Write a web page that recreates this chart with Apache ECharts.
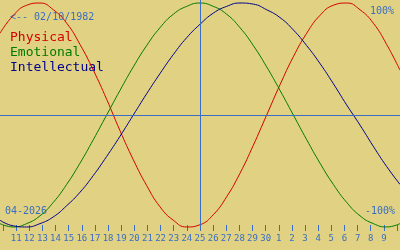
<!DOCTYPE html>
<html>
<head>
<meta charset="utf-8">
<style>
html,body{margin:0;padding:0;background:#e0d282;}
#c{width:400px;height:250px;}
</style>
<script src="https://cdn.jsdelivr.net/npm/echarts@6/dist/echarts.min.js"></script>
</head>
<body>
<div id="c"></div>
<script>
// Day labels from Apr 10 to May 10 (first and last are edges, not labelled)
var days = ['10','11','12','13','14','15','16','17','18','19','20','21','22','23','24','25','26','27','28','29','30','1','2','3','4','5','6','7','8','9','10'];
// Values in percent, one per day
var physical = [73,89,98,100,94,82,63,40,14,-14,-40,-63,-82,-94,-100,-98,-89,-73,-52,-27,0,27,52,73,89,98,100,94,82,63,40];
var emotional = [-97,-100,-97,-90,-78,-62,-43,-22,0,22,43,62,78,90,97,100,97,90,78,62,43,22,0,-22,-43,-62,-78,-90,-97,-100,-97];
var intellectual = [-94,-99,-100,-97,-91,-81,-69,-54,-37,-19,0,19,37,54,69,81,91,97,100,99,94,87,76,62,46,28,9,-9,-28,-46,-62];
var seriesNames = ['Physical','Emotional','Intellectual'];
var todayIndex = 15;
var birthLabel = '<-- 02/10/1982';
var monthLabel = '04-2026';
var topLabel = '100%';
var bottomLabel = '-100%';

var BLUE = '#3a6ec4';
var COLORS = ['#d40000','#007a00','#00008c'];
var FONT = 'DejaVu Sans Mono';

var chart = echarts.init(document.getElementById('c'), null, {renderer:'canvas'});
function mk(name, data, color, extra){
  var s = {name:name, type:'line', data:data, smooth:true, showSymbol:false, symbol:'none',
    xAxisIndex:0, yAxisIndex:0, lineStyle:{color:color, width:1}, itemStyle:{color:color}, silent:true, animation:false, z:3};
  if (extra) for (var k in extra) s[k]=extra[k];
  return s;
}
var lastIdx = days.length - 1;
chart.setOption({
  backgroundColor:'#e0d282',
  animation:false,
  grid:[
    {left:0, right:0, top:0, height:230},
    {left:0, right:0, top:0, height:225}
  ],
  xAxis:[
    {gridIndex:0, type:'category', data:days, boundaryGap:false, show:false},
    {gridIndex:1, type:'category', data:days, boundaryGap:false, position:'bottom',
      axisLine:{show:false, onZero:false},
      axisTick:{show:true, length:6, interval:0, lineStyle:{color:BLUE, width:1}},
      axisLabel:{show:true, interval:0, margin:9, color:BLUE, fontFamily:FONT, fontSize:9,
        formatter:function(v, i){ return (i===0 || i===lastIdx) ? '' : v; }},
      splitLine:{show:false}}
  ],
  yAxis:[
    {gridIndex:0, type:'value', min:-102.7, max:102.7, show:false, splitLine:{show:false}},
    {gridIndex:1, type:'value', min:-100, max:100, show:false, splitLine:{show:false}}
  ],
  series:[
    mk(seriesNames[0], physical, COLORS[0], {
      markLine:{silent:true, symbol:'none', label:{show:false},
        lineStyle:{color:BLUE, width:1, type:'solid'},
        data:[{yAxis:0},{xAxis:todayIndex}]}
    }),
    mk(seriesNames[1], emotional, COLORS[1]),
    mk(seriesNames[2], intellectual, COLORS[2])
  ],
  graphic:[
    {type:'text', left:10, top:12, style:{text:birthLabel, fill:BLUE, font:'10px "DejaVu Sans Mono"'}},
    {type:'text', left:10, top:31, style:{text:seriesNames[0], fill:COLORS[0], font:'13px "DejaVu Sans Mono"'}},
    {type:'text', left:10, top:46, style:{text:seriesNames[1], fill:COLORS[1], font:'13px "DejaVu Sans Mono"'}},
    {type:'text', left:10, top:61, style:{text:seriesNames[2], fill:COLORS[2], font:'13px "DejaVu Sans Mono"'}},
    {type:'text', right:6, top:6, style:{text:topLabel, fill:BLUE, font:'10px "DejaVu Sans Mono"'}},
    {type:'text', right:5, top:206, style:{text:bottomLabel, fill:BLUE, font:'10px "DejaVu Sans Mono"'}},
    {type:'text', left:5, top:206, style:{text:monthLabel, fill:BLUE, font:'10px "DejaVu Sans Mono"'}}
  ]
});
</script>
</body>
</html>
